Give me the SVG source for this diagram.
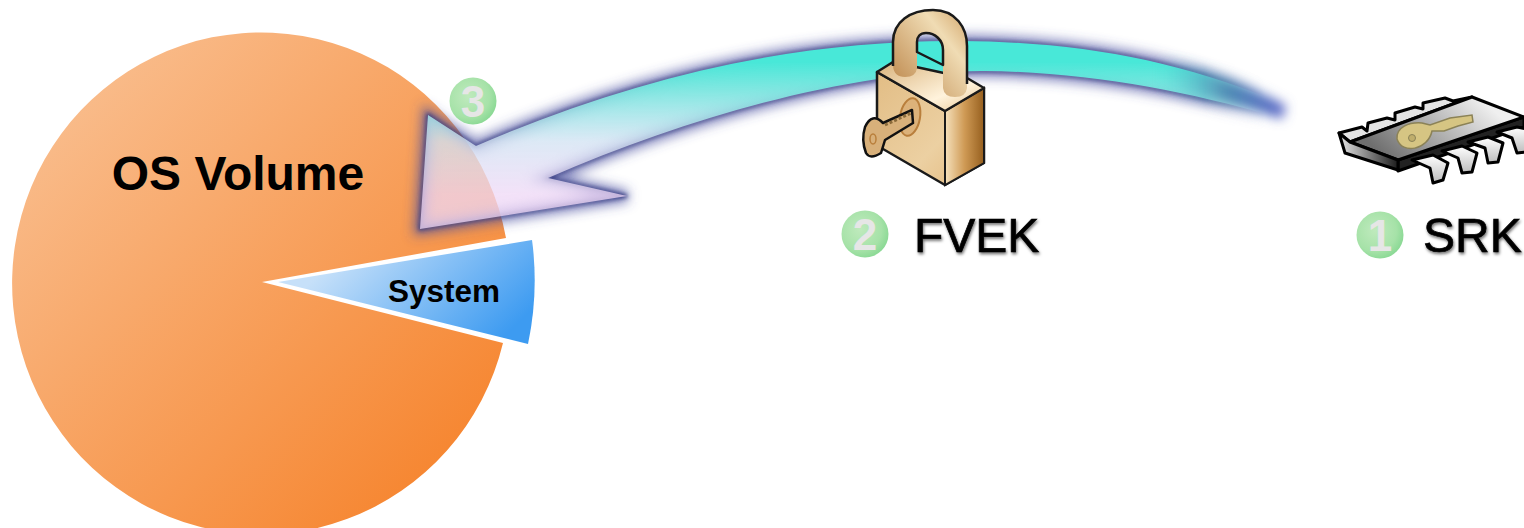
<svg xmlns="http://www.w3.org/2000/svg" width="1524" height="528" viewBox="0 0 1524 528">
<defs>
<style>
.sans{font-family:"Liberation Sans",Arial,sans-serif}
.num{font-family:"Liberation Sans",Arial,sans-serif;font-weight:700;font-size:44px;fill:#e6e6e6;text-anchor:middle}
.lbl{font-family:"Liberation Sans",Arial,sans-serif;font-size:48px;fill:#000;stroke:#000;stroke-width:.7}
.ink{stroke:#1a1a1a;stroke-width:2.5;stroke-linejoin:round}
.chip{stroke:#000;stroke-width:3;stroke-linejoin:round}
</style>
<linearGradient id="pieG" gradientUnits="userSpaceOnUse" x1="60" y1="90" x2="450" y2="480"><stop offset="0" stop-color="#f9bd8d"/><stop offset="1" stop-color="#f6852f"/></linearGradient>
<linearGradient id="sysG" gradientUnits="userSpaceOnUse" x1="370" y1="225" x2="490" y2="350"><stop offset="0" stop-color="#c6e0f9"/><stop offset="1" stop-color="#3d9bf1"/></linearGradient>
<linearGradient id="arrG" gradientUnits="userSpaceOnUse" x1="0" y1="62" x2="0" y2="195"><stop offset="0" stop-color="#48e8d8"/><stop offset="0.2" stop-color="#78e6df" stop-opacity=".95"/><stop offset="0.6" stop-color="#d3e3f3" stop-opacity=".78"/><stop offset="1" stop-color="#efd8f6" stop-opacity=".75"/></linearGradient>
<linearGradient id="tailG" gradientUnits="userSpaceOnUse" x1="1160" y1="0" x2="1280" y2="0"><stop offset="0" stop-color="#48c8cc" stop-opacity="0"/><stop offset="0.55" stop-color="#4f8cb4"/><stop offset="1" stop-color="#5464c4"/></linearGradient>
<linearGradient id="fadeG" gradientUnits="userSpaceOnUse" x1="1205" y1="0" x2="1265" y2="0"><stop offset="0" stop-color="#fff"/><stop offset="1" stop-color="#000"/></linearGradient>
<mask id="fade" maskUnits="userSpaceOnUse" x="380" y="0" width="960" height="270"><rect x="380" y="0" width="960" height="270" fill="url(#fadeG)"/></mask>
<radialGradient id="numG" cx="0.4" cy="0.4" r="0.75"><stop offset="0" stop-color="#bfeabd"/><stop offset="0.6" stop-color="#a6e2a8"/><stop offset="1" stop-color="#79d388"/></radialGradient>
<linearGradient id="bodyF" x1="0" y1="0" x2="1" y2="1"><stop offset="0" stop-color="#e2bd85"/><stop offset="0.6" stop-color="#ecd0a2"/><stop offset="1" stop-color="#e2b87c"/></linearGradient>
<linearGradient id="bodyS" x1="0" y1="0" x2="1" y2="0"><stop offset="0" stop-color="#f6e2bd"/><stop offset="0.5" stop-color="#cf9a55"/><stop offset="1" stop-color="#965f1e"/></linearGradient>
<linearGradient id="bodyT" x1="0" y1="0" x2="1" y2="1"><stop offset="0" stop-color="#d9b27b"/><stop offset="0.65" stop-color="#fff3dc"/><stop offset="1" stop-color="#e7c48f"/></linearGradient>
<linearGradient id="shack" gradientUnits="userSpaceOnUse" x1="895" y1="75" x2="965" y2="20"><stop offset="0" stop-color="#c4935a"/><stop offset="0.7" stop-color="#f0dcb4"/><stop offset="1" stop-color="#d8b079"/></linearGradient>
<linearGradient id="chipT" gradientUnits="userSpaceOnUse" x1="1400" y1="170" x2="1470" y2="90"><stop offset="0" stop-color="#6f6f6f"/><stop offset="1" stop-color="#efefef"/></linearGradient>
<linearGradient id="chipS" x1="0" y1="0" x2="1" y2="0"><stop offset="0" stop-color="#e8e8e8"/><stop offset="1" stop-color="#1c1c1c"/></linearGradient>
<linearGradient id="pin" x1="0" y1="0" x2="0" y2="1"><stop offset="0" stop-color="#fff"/><stop offset="1" stop-color="#bdbdbd"/></linearGradient>
<filter id="glow" filterUnits="userSpaceOnUse" x="380" y="0" width="960" height="270"><feGaussianBlur stdDeviation="6"/></filter>
<filter id="glow2" filterUnits="userSpaceOnUse" x="380" y="0" width="960" height="270"><feGaussianBlur stdDeviation="2"/></filter>
<filter id="soft" filterUnits="userSpaceOnUse" x="1100" y="20" width="240" height="130"><feGaussianBlur stdDeviation="6"/></filter>
<filter id="tshadow" x="-10%" y="-20%" width="130%" height="150%"><feDropShadow dx="1" dy="2" stdDeviation="1.4" flood-color="#000" flood-opacity=".55"/></filter>
<path id="arrowP" d="M1285 105C1180 60 1080 42 960 41C800 40 640 75 476 146L428 115L420 229L627 196L548 178C700 112 860 70 985 71C1090 72 1190 92 1280 118Z"/>
</defs>
<rect width="1524" height="528" fill="#fff"/>
<g id="os-volume">
<path d="M262 282L506 238A249 251 0 1 0 503 343Z" fill="url(#pieG)"/>
<text class="sans" x="238" y="190" font-size="48" font-weight="700" text-anchor="middle">OS Volume</text>
</g>
<g id="system">
<path d="M278 282L532 240Q539 292 528 344Z" fill="url(#sysG)"/>
<text class="sans" x="444" y="302" font-size="31.5" font-weight="700" text-anchor="middle">System</text>
</g>
<g id="connectors">
<g mask="url(#fade)">
<use href="#arrowP" fill="none" stroke="#4a4fa0" stroke-opacity=".7" stroke-width="12" filter="url(#glow)"/>
<use href="#arrowP" fill="none" stroke="#33397f" stroke-width="3" filter="url(#glow2)"/>
<use href="#arrowP" fill="url(#arrG)"/>
</g>
<path d="M1160 58C1200 68 1250 85 1286 106L1282 119C1240 106 1200 96 1160 88Z" fill="url(#tailG)" filter="url(#soft)"/>
</g>
<g id="badge-3"><circle cx="473" cy="101" r="23.5" fill="url(#numG)"/><text class="num" x="473" y="117">3</text></g>
<g id="lock-fvek">
<path class="ink" d="M877 72L945 111L984 88L984 163L945 185L883 149L877 144Z" fill="url(#bodyF)"/>
<path d="M945 111L984 88L984 163L945 185Z" fill="url(#bodyS)" stroke="#1a1a1a" stroke-width="2"/>
<path class="ink" d="M877 72L893 62L967 78L984 88L945 111Z" fill="url(#bodyT)"/>
<path fill-rule="evenodd" d="M893 66L893 42C893 22 910 10 933 10C956 10 967 28 967 46L967 88Q966 97 955 97Q944 97 943 88L943 65L917 52L917 68Q916 77 905 77Q894 77 893 66ZM917 52L943 65L943 50C943 40 935 33 926 33C920 33 917 37 917 42Z" fill="url(#shack)"/>
<path d="M893 66L893 42C893 22 910 10 933 10C956 10 967 28 967 46L967 84M917 52L943 65L943 50C943 40 935 33 926 33C920 33 917 37 917 42Z" fill="none" stroke="#1a1a1a" stroke-width="2.5" stroke-linejoin="round"/>
<ellipse cx="910" cy="117" rx="10" ry="19" transform="rotate(10 910 117)" fill="#dcb27a" stroke="#b97f3c" stroke-width="2"/>
<path d="M883 123L912 110L913 123L885 140L881 153Q870 160 866 153Q861 140 865 127Q872 112 883 123Z" fill="#d8b07a" stroke="#111" stroke-width="2.5" stroke-linejoin="round"/>
<path d="M885 125L911 113" stroke="#8a6a3a" stroke-width="3" stroke-dasharray="3 2" fill="none"/>
<ellipse cx="873" cy="139" rx="3" ry="5" fill="none" stroke="#b97f3c" stroke-width="1.5"/>
</g>
<g id="label-fvek">
<circle cx="865" cy="234" r="23.5" fill="url(#numG)"/><text class="num" x="865" y="250">2</text>
<text class="lbl" x="914" y="252" filter="url(#tshadow)">FVEK</text>
</g>
<g id="chip-srk">
<path class="chip" d="M1339 133L1362 127L1367 131L1368 123L1387 118L1395 120L1395 113L1415 107L1423 109L1423 103L1445 98L1453 101L1472 97L1350 142Z" fill="#e4e4e4"/>
<path class="chip" d="M1398 160L1524 117L1524 127L1398 171Z" fill="#222"/>
<path class="chip" d="M1350 142L1472 97L1524 117L1398 160Z" fill="url(#chipT)"/>
<path class="chip" d="M1339 133L1350 142L1398 160L1398 170L1345 153Z" fill="url(#chipS)"/>
<path class="chip" d="M1412 160L1433 155L1448 163L1443 180L1433 183L1430 168Z" fill="url(#pin)"/>
<path class="chip" d="M1442 151L1462 146L1477 153L1472 172L1462 173L1458 158Z" fill="url(#pin)"/>
<path class="chip" d="M1468 142L1488 137L1503 143L1498 162L1488 163L1485 148Z" fill="url(#pin)"/>
<path class="chip" d="M1497 132L1517 127L1526 129L1526 152L1517 153L1512 138Z" fill="url(#pin)"/>
<path d="M1397 139C1396 127 1409 122 1422 123L1430 125L1450 118L1472 115L1473 122L1458 126L1444 131L1432 131C1428 150 1402 155 1397 139Z" fill="#d6c583" stroke="#8b8257" stroke-width="1.5"/>
<circle cx="1412" cy="138" r="3.5" fill="#bfae6c" stroke="#8b8257"/>
</g>
<g id="label-srk">
<circle cx="1380" cy="235" r="23.5" fill="url(#numG)"/><text class="num" x="1380" y="251">1</text>
<text class="lbl" x="1423" y="252" filter="url(#tshadow)">SRK</text>
</g>
</svg>
